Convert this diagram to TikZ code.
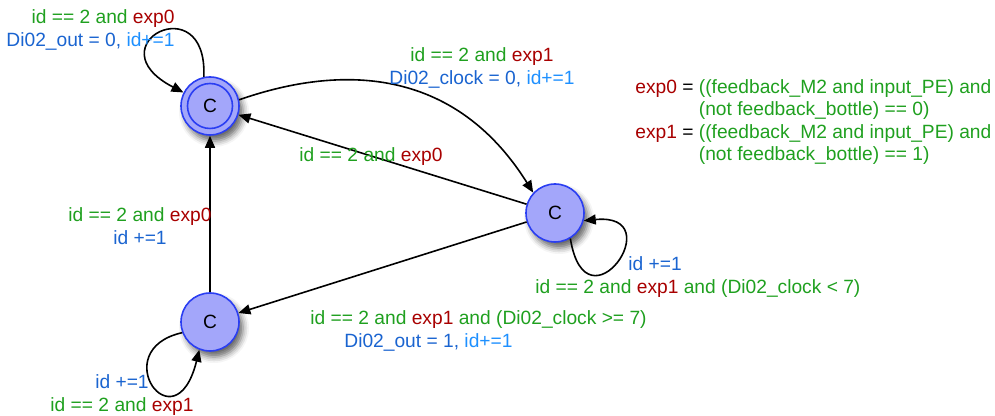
\documentclass[tikz,border=0pt]{standalone}
\usepackage{fontspec}
\setmainfont{Liberation Sans}
\usepackage{tikz}
\usepackage{xcolor}
\usetikzlibrary{arrows.meta,shadows.blur}
\definecolor{gcol}{HTML}{1FA01F}
\definecolor{rcol}{HTML}{A80000}
\definecolor{dblue}{HTML}{1A64D0}
\definecolor{idblue}{HTML}{1E90FF}
\definecolor{stfill}{HTML}{A3A6FA}
\definecolor{stdraw}{HTML}{2A3EF2}
\newcommand{\gtxt}[1]{\textcolor{gcol}{#1}}
\newcommand{\rtxt}[1]{\textcolor{rcol}{#1}}
\newcommand{\btxt}[1]{\textcolor{dblue}{#1}}
\newcommand{\itxt}[1]{\textcolor{idblue}{#1}}

\begin{document}
\begin{tikzpicture}[x=0.5pt,y=-0.5pt,font=\fontsize{9.6}{11.2}\selectfont,
  state/.style={circle,draw=stdraw,fill=stfill,line width=0.8pt,minimum size=29pt,inner sep=0pt,
    blur shadow={shadow xshift=2pt,shadow yshift=-3pt,shadow blur radius=3pt,shadow opacity=60}},
  edge/.style={line width=0.8pt,-{Triangle[length=6pt,width=5pt]}},
  guard/.style={inner sep=0pt}]
\useasboundingbox (0,0) rectangle (995,416);

\node[state] (A) at (210,106) {C};
\draw[stdraw,line width=0.8pt] (A) circle (11.25pt);
\node[state] (B) at (555,213) {C};
\node[state] (C) at (210,322) {C};

\draw[edge] (A.102) .. controls (208,-15) and (92,45) .. (A.153);
\draw[edge] (A.12) .. controls (330,68) and (450,60) .. (B.137);
\draw[edge] (B) -- (A);
\draw[edge] (B) -- (C);
\draw[edge] (C) -- (A);
\draw[edge] (C.201) .. controls (105,350) and (175,448) .. (C.249);
\draw[edge] (B.301) .. controls (586,335) and (672,212) .. (B.345);

\node[guard,align=right,anchor=east] (gaa) at (175,30) {\gtxt{id == 2 and }\rtxt{exp0}\\\btxt{Di02\_out = 0, }\itxt{id+=1}};
\node[guard,align=center] (gab) at (482,68) {\gtxt{id == 2 and }\rtxt{exp1}\\\btxt{Di02\_clock = 0, }\itxt{id+=1}};
\node[guard] (gba) at (371,157) {\gtxt{id == 2 and }\rtxt{exp0}};
\node[guard,align=center] (gca) at (140,226) {\gtxt{id == 2 and }\rtxt{exp0}\\\btxt{id +=1}};
\node[guard,align=left,anchor=west] (gbc) at (310,331) {\gtxt{id == 2 and }\rtxt{exp1} \gtxt{and (Di02\_clock >= 7)}\\\hspace*{17pt}\btxt{Di02\_out = 1, }\itxt{id+=1}};
\node[guard,align=left,anchor=west] (gbb) at (535,277) {\hspace*{46.5pt}\btxt{id +=1}\\\gtxt{id == 2 and }\rtxt{exp1} \gtxt{and (Di02\_clock < 7)}};
\node[guard,align=center] (gcc) at (122,395) {\btxt{id +=1}\\\gtxt{id == 2 and }\rtxt{exp1}};
\node[guard,align=left,anchor=west] (defs) at (635,122) {\rtxt{exp0} = \gtxt{((feedback\_M2 and input\_PE) and}\\\phantom{exp0 = }\gtxt{(not feedback\_bottle) == 0)}\\\rtxt{exp1} = \gtxt{((feedback\_M2 and input\_PE) and}\\\phantom{exp1 = }\gtxt{(not feedback\_bottle) == 1)}};
\end{tikzpicture}
\end{document}
